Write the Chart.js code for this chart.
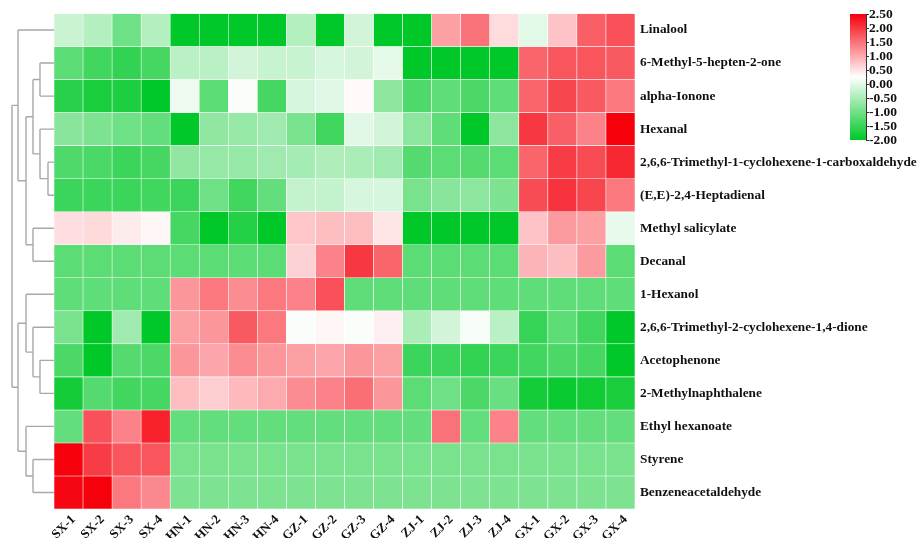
<!DOCTYPE html>
<html>
<head>
<meta charset="utf-8">
<script src="https://cdn.jsdelivr.net/npm/chart.js@4/dist/chart.umd.min.js"></script>
<style>
  body { margin: 0; background: #fff; }
  #wrap { width: 921px; height: 538px; position: relative; }
</style>
</head>
<body>
<div id="wrap"><canvas id="heatmap"></canvas></div>
<script>
const samples = ['SX-1', 'SX-2', 'SX-3', 'SX-4', 'HN-1', 'HN-2', 'HN-3', 'HN-4',
                 'GZ-1', 'GZ-2', 'GZ-3', 'GZ-4', 'ZJ-1', 'ZJ-2', 'ZJ-3', 'ZJ-4',
                 'GX-1', 'GX-2', 'GX-3', 'GX-4'];

const compounds = ['Linalool', '6-Methyl-5-hepten-2-one', 'alpha-Ionone', 'Hexanal',
                   '2,6,6-Trimethyl-1-cyclohexene-1-carboxaldehyde', '(E,E)-2,4-Heptadienal',
                   'Methyl salicylate', 'Decanal', '1-Hexanol', '2,6,6-Trimethyl-2-cyclohexene-1,4-dione',
                   'Acetophenone', '2-Methylnaphthalene', 'Ethyl hexanoate', 'Styrene', 'Benzeneacetaldehyde'];

// z-scores, one row per compound, columns in sample order
const values = [
  [-0.23, -0.42, -1.03, -0.42, -2.00, -2.00, -2.00, -2.00, -0.42, -2.00, -0.15, -2.00, -2.00, 1.09, 1.49, 0.56, 0.00, 0.78, 1.66, 1.79],
  [-1.20, -1.43, -1.56, -1.38, -0.37, -0.37, -0.15, -0.24, -0.24, -0.10, -0.15, 0.03, -2.00, -2.00, -2.00, -2.00, 1.62, 1.75, 1.75, 1.71],
  [-1.65, -1.78, -1.74, -2.00, 0.10, -1.20, 0.20, -1.38, -0.10, -0.02, 0.30, -0.76, -1.30, -1.16, -1.34, -1.16, 1.62, 1.88, 1.71, 1.44],
  [-0.80, -0.90, -1.03, -1.12, -2.00, -0.72, -0.68, -0.59, -0.94, -1.43, -0.02, -0.15, -0.76, -1.16, -2.00, -0.76, 2.01, 1.66, 1.35, 2.50],
  [-1.30, -1.34, -1.47, -1.38, -0.72, -0.68, -0.68, -0.59, -0.54, -0.46, -0.50, -0.59, -1.25, -1.20, -1.25, -1.20, 1.62, 1.97, 1.84, 2.15],
  [-1.47, -1.47, -1.47, -1.43, -1.47, -1.03, -1.43, -1.12, -0.28, -0.28, -0.10, -0.10, -0.94, -0.80, -0.76, -0.90, 1.84, 2.06, 1.88, 1.44],
  [0.54, 0.58, 0.43, 0.33, -1.38, -2.00, -1.69, -2.00, 0.74, 0.82, 0.82, 0.47, -2.00, -2.00, -2.00, -2.00, 0.78, 1.13, 1.09, 0.05],
  [-1.20, -1.20, -1.20, -1.18, -1.20, -1.20, -1.20, -1.20, 0.65, 1.35, 2.01, 1.62, -1.20, -1.20, -1.20, -1.20, 0.91, 0.82, 1.13, -1.20],
  [-1.16, -1.16, -1.16, -1.16, 1.18, 1.44, 1.26, 1.44, 1.35, 1.79, -1.16, -1.16, -1.16, -1.16, -1.16, -1.16, -1.16, -1.16, -1.16, -1.16],
  [-0.94, -2.00, -0.59, -2.00, 1.09, 1.18, 1.71, 1.44, 0.20, 0.33, 0.20, 0.38, -0.50, -0.15, 0.17, -0.37, -1.52, -1.20, -1.43, -2.00],
  [-1.34, -2.00, -1.25, -1.34, 1.18, 1.04, 1.26, 1.18, 1.09, 1.04, 1.18, 1.09, -1.47, -1.47, -1.56, -1.47, -1.43, -1.34, -1.38, -2.00],
  [-1.82, -1.25, -1.43, -1.38, 0.82, 0.69, 0.87, 1.00, 1.26, 1.35, 1.53, 1.18, -1.20, -1.03, -1.34, -1.07, -1.82, -1.91, -1.87, -1.78],
  [-1.12, 1.79, 1.35, 2.20, -1.12, -1.12, -1.12, -1.12, -1.12, -1.12, -1.12, -1.12, -1.12, 1.49, -1.12, 1.35, -1.12, -1.12, -1.12, -1.12],
  [2.50, 1.97, 1.75, 1.75, -0.94, -0.94, -0.94, -0.94, -0.94, -0.94, -0.94, -0.94, -0.94, -0.94, -0.94, -0.94, -0.94, -0.94, -0.94, -0.94],
  [2.45, 2.50, 1.44, 1.30, -0.90, -0.90, -0.90, -0.90, -0.90, -0.90, -0.90, -0.90, -0.90, -0.90, -0.90, -0.90, -0.90, -0.90, -0.90, -0.90]
];

// row clustering: [childA, childB, height]; ids 0-14 are compounds, 15+ are merges in order
const merges = [
  [1, 2, 14], [4, 5, 6], [3, 16, 14], [15, 17, 21], [6, 7, 21], [18, 19, 28], [0, 20, 36],
  [10, 11, 14], [9, 22, 21], [8, 23, 28], [13, 14, 21], [12, 25, 28], [24, 26, 36], [21, 27, 42]
];

const colorTicks = [2.5, 2.0, 1.5, 1.0, 0.5, 0.0, -0.5, -1.0, -1.5, -2.0];
const zMin = -2.0, zMax = 2.5;

const LOW = [0, 200, 40], MID = [255, 255, 255], HIGH = [246, 0, 12];
const zMid = (zMin + zMax) / 2;

function heatColor(v) {
  let a, b, t;
  if (v < zMid) { a = LOW; b = MID; t = (v - zMin) / (zMid - zMin); }
  else { a = MID; b = HIGH; t = (v - zMid) / (zMax - zMid); }
  t = Math.max(0, Math.min(1, t));
  const c = a.map((x, i) => Math.round(x + (b[i] - x) * t));
  return `rgb(${c[0]},${c[1]},${c[2]})`;
}

const labelFont = { family: '"Liberation Serif", "Times New Roman", serif', weight: 'bold' };

// one floating-bar dataset per compound, spanning [row, row + 1]
const datasets = compounds.map((name, r) => ({
  label: name,
  data: samples.map(() => [r, r + 1]),
  backgroundColor: ctx => heatColor(values[r][ctx.dataIndex]),
  borderColor: 'rgba(255,255,255,0.75)',
  borderWidth: 0.6,
  borderSkipped: false,
  barPercentage: 1,
  categoryPercentage: 1,
  grouped: false
}));

const dendrogram = {
  id: 'dendrogram',
  afterDraw(chart) {
    const ctx = chart.ctx;
    const yScale = chart.scales.y;
    const left = chart.chartArea.left;
    const pos = compounds.map((_, r) => ({ y: yScale.getPixelForValue(r + 0.5), h: 0 }));
    ctx.save();
    ctx.strokeStyle = '#a8a8a8';
    ctx.lineWidth = 1.4;
    ctx.beginPath();
    merges.forEach(([a, b, h]) => {
      const pa = pos[a], pb = pos[b];
      const x = left - h;
      ctx.moveTo(left - pa.h, pa.y); ctx.lineTo(x, pa.y);
      ctx.moveTo(left - pb.h, pb.y); ctx.lineTo(x, pb.y);
      ctx.moveTo(x, pa.y); ctx.lineTo(x, pb.y);
      pos.push({ y: (pa.y + pb.y) / 2, h: h });
    });
    ctx.stroke();
    ctx.restore();
  }
};

const colorBar = {
  id: 'colorBar',
  afterDraw(chart) {
    const ctx = chart.ctx;
    const x = 850, top = 14, w = 16, h = 126;
    const grad = ctx.createLinearGradient(0, top, 0, top + h);
    grad.addColorStop(0, heatColor(zMax));
    grad.addColorStop(0.5, heatColor(zMid));
    grad.addColorStop(1, heatColor(zMin));
    ctx.save();
    ctx.fillStyle = grad;
    ctx.fillRect(x, top, w, h);
    ctx.strokeStyle = '#333';
    ctx.lineWidth = 1;
    ctx.beginPath();
    ctx.moveTo(x + w + 0.5, top);
    ctx.lineTo(x + w + 0.5, top + h);
    ctx.fillStyle = '#111';
    ctx.font = 'bold 13.5px "Liberation Serif", "Times New Roman", serif';
    ctx.textBaseline = 'middle';
    colorTicks.forEach(v => {
      const y = top + (zMax - v) / (zMax - zMin) * h;
      ctx.moveTo(x + w, y + 0.5);
      ctx.lineTo(x + w + 3, y + 0.5);
      ctx.fillText(v.toFixed(2), x + w + 3, y + 1);
    });
    ctx.stroke();
    ctx.restore();
  }
};

new Chart(document.getElementById('heatmap'), {
  type: 'bar',
  data: { labels: samples, datasets: datasets },
  options: {
    responsive: true,
    maintainAspectRatio: false,
    animation: false,
    layout: { padding: { left: 54, top: 13.5, right: 0, bottom: 0 } },
    plugins: { legend: { display: false }, tooltip: { enabled: false } },
    scales: {
      x: {
        type: 'category',
        offset: true,
        grid: { display: false, drawTicks: false },
        border: { display: false },
        ticks: {
          color: '#111',
          font: { ...labelFont, size: 13 },
          minRotation: 45,
          maxRotation: 45,
          padding: 3,
          labelOffset: 5,
          autoSkip: false
        },
        afterFit: axis => { axis.height = 29; }
      },
      y: {
        type: 'linear',
        display: false,
        reverse: true,
        min: 0,
        max: compounds.length
      },
      yLab: {
        type: 'category',
        position: 'right',
        labels: compounds,
        offset: true,
        grid: { display: false, drawTicks: false },
        border: { display: false },
        ticks: {
          color: '#111',
          font: { ...labelFont, size: 13.3 },
          padding: 5,
          autoSkip: false
        },
        afterFit: axis => { axis.width = 286; }
      }
    }
  },
  plugins: [dendrogram, colorBar]
});
</script>
</body>
</html>
